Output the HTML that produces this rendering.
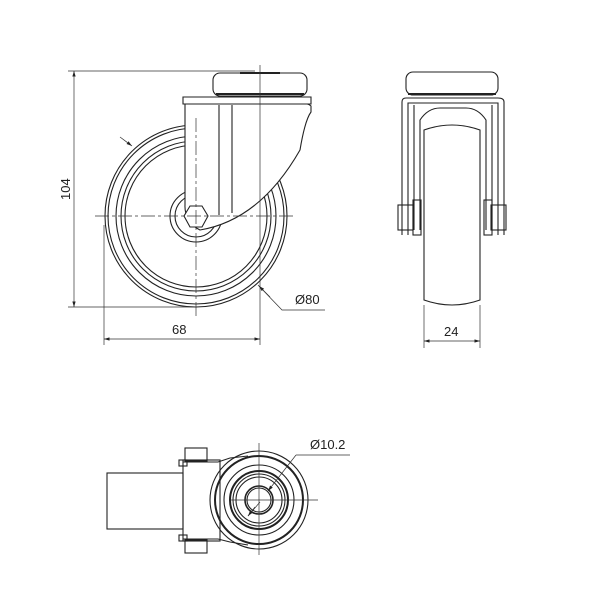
<!DOCTYPE html>
<html><head><style>body{margin:0;background:#fff}svg{display:block}text{font-family:"Liberation Sans",sans-serif;font-size:13px;fill:#222}</style></head>
<body>
<svg width="600" height="600" viewBox="0 0 600 600" xmlns="http://www.w3.org/2000/svg">
<defs><marker id="a" viewBox="0 0 10 10" refX="10" refY="5" markerWidth="8" markerHeight="8" orient="auto-start-reverse"><path d="M0,2 L10,5 L0,8 z" fill="#222"/></marker></defs>
<g fill="none" stroke="#222" stroke-width="1.1">
<!-- FRONT VIEW -->
<circle cx="196" cy="216" r="91"/>
<circle cx="196" cy="216" r="88"/>
<circle cx="196" cy="216" r="80"/>
<circle cx="196" cy="216" r="75"/>
<circle cx="196" cy="216" r="71"/>
<circle cx="196" cy="216" r="26"/>
<circle cx="196" cy="216" r="21"/>
<!-- fork -->
<path d="M185,105 L185,205 A26,26 0 0 0 200,230 Q260,220 300,150 Q305,120 311,112 L311,106 Q308,103 300,103 L185,103 Z" fill="#fff"/>
<path d="M183,97 L311,97 L311,104 L183,104 Z" fill="#fff"/>
<path d="M219,105 L219,215 M232,105 L232,213"/>
<rect x="213" y="73" width="94" height="23" rx="7" fill="#fff"/>
<line x1="216" y1="94" x2="304" y2="94" stroke-width="2"/>
<line x1="240" y1="73" x2="280" y2="73" stroke-width="2"/>
<polygon points="190,206 202,206 208,216 202,227 190,227 184,216" fill="#fff"/>
<!-- side view -->
<rect x="406" y="72" width="92" height="23" rx="7"/>
<line x1="408" y1="94" x2="496" y2="94" stroke-width="2"/>
<path d="M402,235 L402,102 Q402,98 406,98 L498,98 Q504,98 504,102 L504,235"/>
<path d="M408,235 L408,103 L498,103 L498,235"/>
<path d="M414,105 L414,230 M492,105 L492,230"/>
<path d="M420,230 L420,120 Q428,108 440,108 L466,108 Q478,108 486,120 L486,230"/>
<path d="M424,130 Q452,120 480,130 L480,300 Q452,310 424,300 Z" fill="#fff"/>
<rect x="398" y="205" width="15" height="25"/>
<rect x="491" y="205" width="15" height="25"/>
<rect x="413" y="200" width="8" height="35"/>
<rect x="484" y="200" width="8" height="35"/>
<!-- bottom view -->
<rect x="107" y="473" width="76" height="56"/>
<path d="M183,462 L218,462 L230,458 L248,456 M183,539 L218,539 L230,542 L248,545"/>
<rect x="183" y="460" width="37" height="81"/>
<rect x="179" y="460" width="8" height="6"/><rect x="179" y="535" width="8" height="6"/>
<rect x="185" y="448" width="22" height="13"/><rect x="185" y="540" width="22" height="13"/>
<circle cx="259" cy="500" r="49"/>
<circle cx="259" cy="500" r="44" stroke-width="2"/>
<circle cx="259" cy="500" r="35"/>
<circle cx="259" cy="500" r="29" stroke-width="2"/>
<circle cx="259" cy="500" r="26"/>
<circle cx="259" cy="500" r="23"/>
<circle cx="259" cy="500" r="14" stroke-width="1.6"/>
<circle cx="259" cy="500" r="12"/>
</g>
<g fill="none" stroke="#333" stroke-width="0.7">
<!-- centerlines -->
<path d="M95,216 L296,216 M196,118 L196,316" stroke-dasharray="14,3,3,3"/>
<path d="M230,500 L318,500 M259,443 L259,555"/>
<!-- dims front -->
<path d="M68,71 L255,71 M68,307 L196,307 M104,225 L104,345 M260,65 L260,345 M265,71 L265,71"/>
<line x1="74" y1="71" x2="74" y2="307" marker-start="url(#a)" marker-end="url(#a)"/>
<line x1="104" y1="339" x2="260" y2="339" marker-start="url(#a)" marker-end="url(#a)"/>
<path d="M258,285 L282,310 L325,310"/>
<line x1="120" y1="137" x2="132" y2="146" marker-end="url(#a)"/>
<line x1="270" y1="297" x2="259" y2="286" marker-end="url(#a)"/>
<!-- dims side -->
<path d="M424,305 L424,348 M480,305 L480,348"/>
<line x1="424" y1="341" x2="480" y2="341" marker-start="url(#a)" marker-end="url(#a)"/>
<!-- bottom leader -->
<path d="M296,455 L350,455"/>
<line x1="296" y1="455" x2="268" y2="491" marker-end="url(#a)"/>
<line x1="260" y1="502" x2="248" y2="516" />
<line x1="255" y1="507" x2="248" y2="516" marker-end="url(#a)"/>
</g>
<text x="172" y="334">68</text>
<text x="295" y="304">Ø80</text>
<text x="444" y="336">24</text>
<text x="310" y="449">Ø10.2</text>
<text transform="translate(70,200) rotate(-90)">104</text>
</svg>
</body></html>
